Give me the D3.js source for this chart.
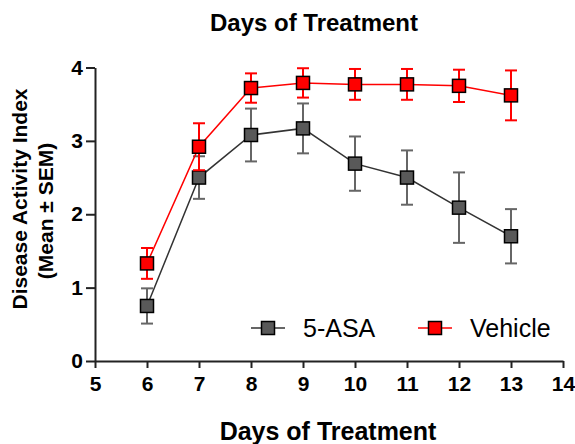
<!DOCTYPE html>
<html>
<head>
<meta charset="utf-8">
<script src="https://cdn.jsdelivr.net/npm/d3@7"></script>
<style>
  body { margin: 0; background: #fff; }
  text { font-family: "Liberation Sans", Arial, sans-serif; }
</style>
</head>
<body>
<div id="plot"></div>
<script>
// data
const days = [6, 7, 8, 9, 10, 11, 12, 13];
const asaMean = [0.75, 2.50, 3.08, 3.17, 2.69, 2.50, 2.09, 1.70];
const asaSem = [0.24, 0.29, 0.36, 0.34, 0.37, 0.37, 0.48, 0.37];
const vehMean = [1.33, 2.92, 3.72, 3.79, 3.77, 3.77, 3.75, 3.62];
const vehSem = [0.21, 0.32, 0.20, 0.20, 0.21, 0.21, 0.22, 0.34];
const xTicks = [5, 6, 7, 8, 9, 10, 11, 12, 13, 14];
const yTicks = [0, 1, 2, 3, 4];

const w = 575;
const h = 444;

const svg = d3.select("div#plot")
  .append("svg")
    .attr("width", w)
    .attr("height", h);

const xScale = d3.scaleLinear().domain([5, 14]).range([95, 563]);
const yScale = d3.scaleLinear().domain([0, 4]).range([361, 67.5]);

// axes
const xAxis = d3.axisBottom(xScale).tickValues(xTicks).tickFormat(d3.format("d"))
  .tickSize(7).tickPadding(8).tickSizeOuter(0);
const yAxis = d3.axisLeft(yScale).tickValues(yTicks).tickFormat(d3.format("d"))
  .tickSize(9).tickPadding(3).tickSizeOuter(0);

const gx = svg.append("g")
  .attr("transform", `translate(0, ${yScale(0)})`)
  .call(xAxis);
const gy = svg.append("g")
  .attr("transform", `translate(${xScale(5)}, 0)`)
  .call(yAxis);

[gx, gy].forEach(g => {
  g.selectAll("path, line").attr("stroke", "#222").attr("stroke-width", 2);
  g.selectAll("text")
    .attr("fill", "#000")
    .style("font-size", "21px")
    .style("font-weight", "bold");
});

// series
const series = [
  {name: "5-ASA", mean: asaMean, sem: asaSem, line: "#333", err: "#666", fill: "#595959"},
  {name: "Vehicle", mean: vehMean, sem: vehSem, line: "#ff0000", err: "#ff0000", fill: "#ff0000"}
];

const lineGen = d3.line()
  .x(d => xScale(d.x))
  .y(d => yScale(d.y));

series.forEach(s => {
  const pts = days.map((d, i) => ({x: d, y: s.mean[i], e: s.sem[i]}));
  const g = svg.append("g");

  g.append("path")
    .datum(pts)
    .attr("d", lineGen)
    .attr("fill", "none")
    .attr("stroke", s.line)
    .attr("stroke-width", 1.5);

  const eb = g.selectAll("g.err")
    .data(pts)
    .enter()
    .append("g")
    .attr("stroke", s.err)
    .attr("stroke-width", 2);
  eb.append("line")
    .attr("x1", d => xScale(d.x)).attr("x2", d => xScale(d.x))
    .attr("y1", d => yScale(d.y - d.e)).attr("y2", d => yScale(d.y + d.e));
  eb.append("line")
    .attr("x1", d => xScale(d.x) - 6).attr("x2", d => xScale(d.x) + 6)
    .attr("y1", d => yScale(d.y + d.e)).attr("y2", d => yScale(d.y + d.e));
  eb.append("line")
    .attr("x1", d => xScale(d.x) - 6).attr("x2", d => xScale(d.x) + 6)
    .attr("y1", d => yScale(d.y - d.e)).attr("y2", d => yScale(d.y - d.e));

  g.selectAll("rect")
    .data(pts)
    .enter()
    .append("rect")
    .attr("x", d => xScale(d.x) - 6.5)
    .attr("y", d => yScale(d.y) - 6.5)
    .attr("width", 13)
    .attr("height", 13)
    .attr("fill", s.fill)
    .attr("stroke", "#000")
    .attr("stroke-width", 1.5);
});

// legend
const legendX = [268, 435];
series.forEach((s, i) => {
  const lg = svg.append("g").attr("transform", `translate(${legendX[i]}, 328)`);
  lg.append("line")
    .attr("x1", -17).attr("x2", 17)
    .attr("stroke", s.line).attr("stroke-width", 1.5);
  lg.append("rect")
    .attr("x", -6.5).attr("y", -6.5)
    .attr("width", 13).attr("height", 13)
    .attr("fill", s.fill)
    .attr("stroke", "#000")
    .attr("stroke-width", 1.5);
  lg.append("text")
    .attr("x", 35)
    .attr("y", 9)
    .style("font-size", "25px")
    .text(s.name);
});

// titles
svg.append("text")
  .attr("x", 314)
  .attr("y", 31)
  .attr("text-anchor", "middle")
  .style("font-size", "24px")
  .style("font-weight", "bold")
  .text("Days of Treatment");

svg.append("text")
  .attr("x", 328)
  .attr("y", 440)
  .attr("text-anchor", "middle")
  .style("font-size", "25px")
  .style("font-weight", "bold")
  .text("Days of Treatment");

// y-axis label, two lines
svg.append("text")
  .attr("transform", "translate(27, 199) rotate(-90)")
  .attr("text-anchor", "middle")
  .style("font-size", "21px")
  .style("font-weight", "bold")
  .text("Disease Activity Index");

svg.append("text")
  .attr("transform", "translate(53, 211) rotate(-90)")
  .attr("text-anchor", "middle")
  .style("font-size", "21px")
  .style("font-weight", "bold")
  .text("(Mean ± SEM)");
</script>
</body>
</html>
